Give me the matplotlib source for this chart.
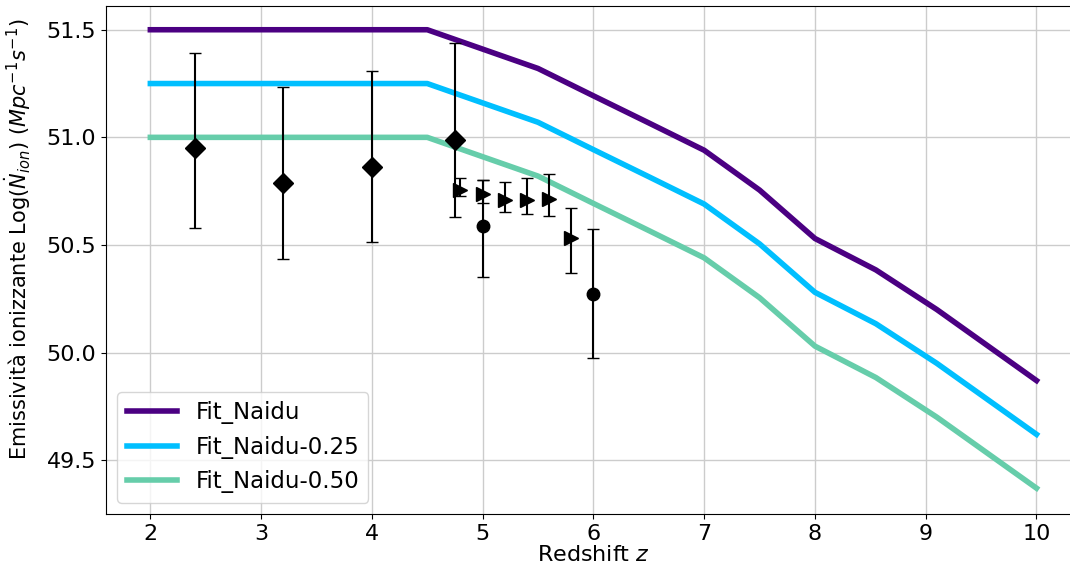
import numpy as np
import matplotlib
matplotlib.use("Agg")
import matplotlib.pyplot as plt

# Fit_Naidu emissivity curve (redshift, log Ndot_ion)
z_fit = [2.0, 4.5, 5.0, 5.5, 6.0, 6.5, 7.0, 7.5, 8.0, 8.55, 9.1, 10.0]
n_fit = [51.5, 51.5, 51.41, 51.32, 51.193, 51.067, 50.94, 50.755, 50.53, 50.384, 50.2, 49.87]
offsets = [0.0, 0.25, 0.50]
fit_labels = ["Fit_Naidu", "Fit_Naidu-0.25", "Fit_Naidu-0.50"]
fit_colors = ["#4B0082", "#00BFFF", "#66CDAA"]

# diamonds
z_d = [2.4, 3.2, 4.0, 4.75]
n_d = [50.95, 50.79, 50.86, 50.986]
d_lo = [0.37, 0.356, 0.345, 0.358]
d_hi = [0.44, 0.445, 0.447, 0.452]

# circles
z_c = [5.0, 6.0]
n_c = [50.59, 50.273]
c_lo = [0.241, 0.296]
c_hi = [0.21, 0.30]

# triangles
z_t = [4.8, 5.0, 5.2, 5.4, 5.6, 5.8]
n_t = [50.755, 50.739, 50.708, 50.708, 50.713, 50.531]
t_lo = [0.028, 0.043, 0.057, 0.066, 0.079, 0.162]
t_hi = [0.058, 0.065, 0.085, 0.105, 0.119, 0.139]

fig = plt.figure(figsize=(10.7, 5.72), dpi=100)
ax = fig.add_axes([0.0991, 0.1014, 0.911, 0.888])

for off, lab, col in zip(offsets, fit_labels, fit_colors):
    ax.plot(z_fit, np.array(n_fit) - off, color=col, lw=4, label=lab)

ax.errorbar(z_d, n_d, yerr=[d_lo, d_hi], fmt="D", color="black", ms=10,
            ecolor="black", elinewidth=1.5, capsize=4)
ax.errorbar(z_c, n_c, yerr=[c_lo, c_hi], fmt="o", color="black", ms=9,
            ecolor="black", elinewidth=1.5, capsize=4)
ax.errorbar(z_t, n_t, yerr=[t_lo, t_hi], fmt=">", color="black", ms=10,
            ecolor="black", elinewidth=1.5, capsize=4)

ax.set_xlim(1.6, 10.4)
ax.set_ylim(49.25, 51.61)
ax.set_xticks(range(2, 11))
ax.set_yticks([49.5, 50.0, 50.5, 51.0, 51.5])
ax.tick_params(labelsize=16)
ax.grid(True, color="#cccccc", lw=1)
ax.set_axisbelow(True)

ax.set_xlabel("Redshift $z$", fontsize=16, labelpad=1)
ax.set_ylabel(r"Emissività ionizzante Log($\dot{N}_{ion}$) ($Mpc^{-1}s^{-1}$)", fontsize=15)
ax.yaxis.set_label_coords(-0.075, 0.541)
ax.legend(loc="lower left", fontsize=16.5, handlelength=2.2)

fig.savefig("out.png", dpi=100)
